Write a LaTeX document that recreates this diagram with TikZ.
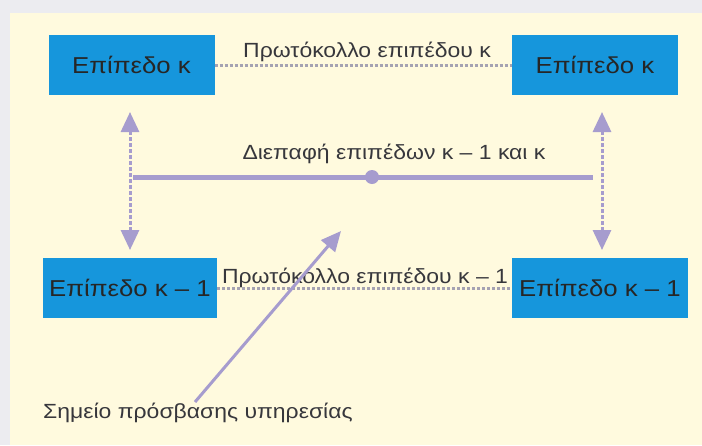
\documentclass[tikz,border=0pt]{standalone}
\usepackage{fontspec}
\setmainfont{Liberation Sans}
\newfontfamily\widesans{Liberation Sans}[FakeStretch=1.12]
\usetikzlibrary{arrows.meta}
\definecolor{panel}{RGB}{255,250,222}
\definecolor{frame}{RGB}{236,236,240}
\definecolor{layerblue}{RGB}{22,150,220}
\definecolor{lilac}{RGB}{166,156,206}
\definecolor{dotgray}{RGB}{165,162,178}
\definecolor{ink}{RGB}{55,55,60}
\begin{document}
\begin{tikzpicture}[x=1pt,y=-1pt,
  layer/.style={fill=layerblue,minimum height=60pt,inner sep=0pt,
    font=\widesans\fontsize{23}{26}\selectfont,text=black!85},
  lbl/.style={font=\widesans\fontsize{20.5}{24}\selectfont,text=ink,inner sep=1pt},
  proto/.style={dotgray,line width=3pt,dotted},
  vlink/.style={lilac,line width=3pt,dash pattern=on 4pt off 2pt,
    {Triangle[width=18pt,length=20pt]}-{Triangle[width=18pt,length=20pt]}},
  sap/.style={lilac,line width=3pt,-{Triangle[width=18pt,length=20pt]}}]
\fill[frame] (0,0) rectangle (702,445);
\fill[panel] (10,13) rectangle (702,445);
\useasboundingbox (0,0) rectangle (702,445);
\node[layer,minimum width=166pt] (topL) at (131.5,65) {Επίπεδο κ};
\node[layer,minimum width=166pt] (topR) at (595,65) {Επίπεδο κ};
\node[layer,minimum width=174pt] (botL) at (130,288) {Επίπεδο κ – 1};
\node[layer,minimum width=176pt] (botR) at (600,288) {Επίπεδο κ – 1};
\draw[proto] (topL.east) -- (topR.west);
\draw[proto] (botL.east) -- (botR.west);
\node[lbl,anchor=base] (protoK) at (367,57) {Πρωτόκολλο επιπέδου κ};
\node[lbl,anchor=base] (protoK1) at (365,283) {Πρωτόκολλο επιπέδου κ – 1};
\coordinate (vL1) at (130,112);
\coordinate (vL2) at (130,250);
\coordinate (vR1) at (602,112);
\coordinate (vR2) at (602,250);
\draw[vlink] (vL1) -- (vL2);
\draw[vlink] (vR1) -- (vR2);
\coordinate (ifL) at (133,177);
\coordinate (ifR) at (593,177);
\draw[lilac,line width=5pt] (ifL) -- (ifR);
\node[circle,fill=lilac,minimum size=14pt,inner sep=0pt] (sapdot) at (372,177) {};
\node[lbl,anchor=base] (ifLbl) at (394,159) {Διεπαφή επιπέδων κ – 1 και κ};
\node[lbl,anchor=base west] (sapLbl) at (42,418) {Σημείο πρόσβασης υπηρεσίας};
\coordinate (sapTip) at (341,231);
\draw[sap] (195,402) -- (sapTip);
\end{tikzpicture}
\end{document}
